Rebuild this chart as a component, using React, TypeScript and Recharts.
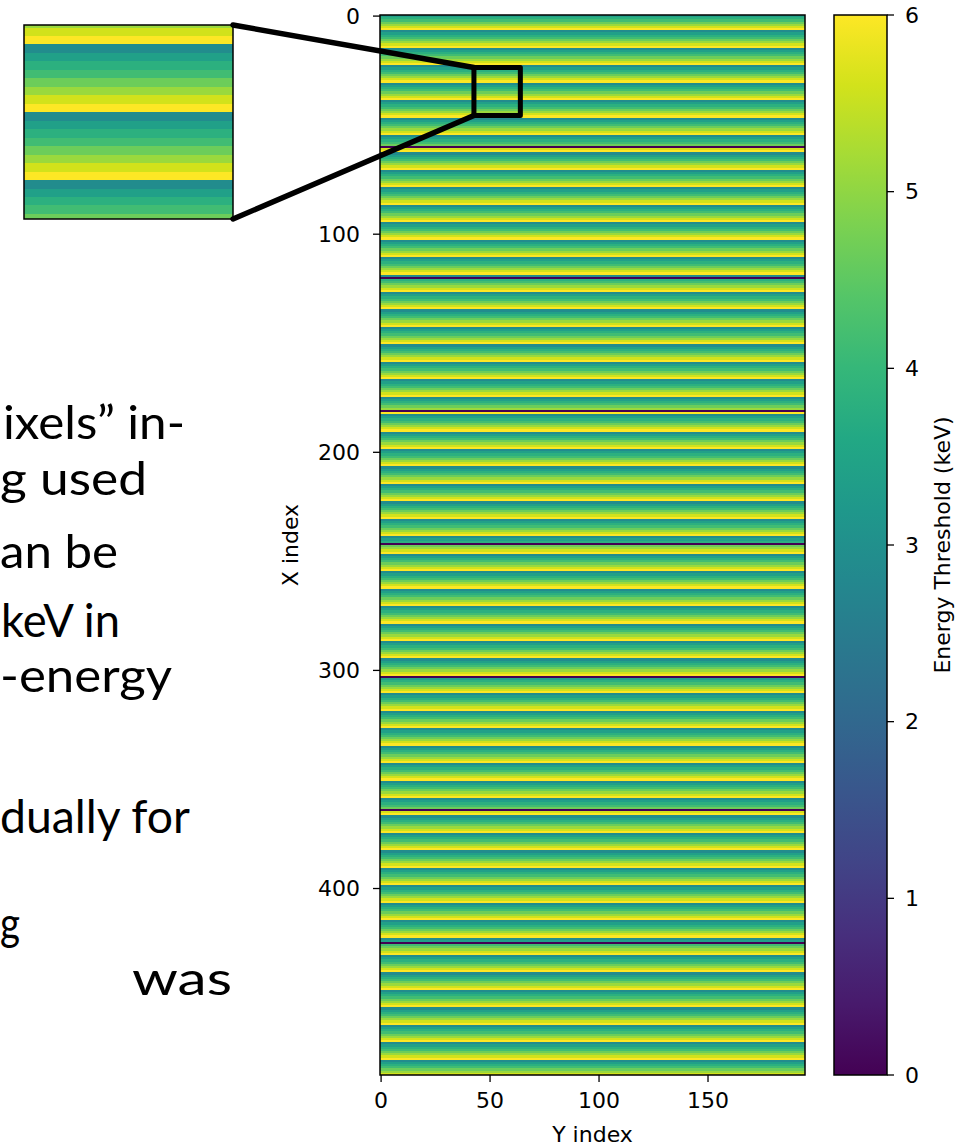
import React from "react";
import { ComposedChart, XAxis, YAxis, ReferenceArea } from "recharts";

const ROW_COUNT = 486;
const COL_COUNT = 195;

// keV threshold of each row inside the repeating 8-row pattern (teal -> yellow)
const stripeCycle = [2.9, 3.4, 3.8, 4.15, 4.65, 5.1, 5.6, 6.0];
const cyclePhase = 1; // row 6 is the first full-yellow row
// rows that are switched off (0 keV)
const deadRows = [60, 120, 181, 242, 303, 364, 425];

const xTicks = [0, 50, 100, 150];
const yTicks = [0, 100, 200, 300, 400];
const barTicks = [0, 1, 2, 3, 4, 5, 6];

// zoomed region marked on the map, and the rows shown in the inset
const zoomBox = { x1: 42.6, x2: 63.9, y1: 23.6, y2: 45.6 };
const insetRowRange = [20.2, 43.1];

// visible fragments of the slide text at the left edge
const slideLines = [
  { text: "ixels\u201D in-", left: 3, right: 185, baseline: 439 },
  { text: "g used", left: 0, right: 147, baseline: 495 },
  { text: "an be", left: 0, right: 118, baseline: 568 },
  { text: "keV in", left: 1, right: 120, baseline: 637 },
  { text: "-energy", left: 0, right: 172, baseline: 692 },
  { text: "dually for", left: 0, right: 190, baseline: 833 },
  { text: "g", left: 0, right: 20, baseline: 940 },
  { text: "was", left: 132, right: 232, baseline: 995 },
];

const viridis = [
  "#440154", "#481a6c", "#472f7d", "#414487", "#39568c", "#31688e", "#2a788e", "#23888e",
  "#1f988b", "#22a884", "#35b779", "#54c568", "#7ad151", "#a5db36", "#d2e21b", "#fde725",
];

const V_MIN = 0;
const V_MAX = 6;

function hexToRgb(h: string) {
  const n = parseInt(h.slice(1), 16);
  return [(n >> 16) & 255, (n >> 8) & 255, n & 255];
}

function viridisColor(v: number) {
  const t = Math.min(1, Math.max(0, (v - V_MIN) / (V_MAX - V_MIN)));
  const pos = t * (viridis.length - 1);
  const i = Math.min(viridis.length - 2, Math.floor(pos));
  const f = pos - i;
  const a = hexToRgb(viridis[i]);
  const b = hexToRgb(viridis[i + 1]);
  const c = a.map((av, k) => Math.round(av + (b[k] - av) * f));
  return `rgb(${c[0]},${c[1]},${c[2]})`;
}

const rows = Array.from({ length: ROW_COUNT }, (_, r) => ({
  row: r,
  keV: deadRows.includes(r) ? 0 : stripeCycle[(r + cyclePhase) % stripeCycle.length],
}));

// plot geometry (page pixels)
const PLOT = { left: 380, right: 805, top: 15, bottom: 1075 };
const INSET = { left: 24, right: 233, top: 25, bottom: 219 };

const toPx = (x: number) => PLOT.left + ((x + 0.5) * (PLOT.right - PLOT.left)) / COL_COUNT;
const toPy = (y: number) => PLOT.top + ((y + 0.5) * (PLOT.bottom - PLOT.top)) / ROW_COUNT;

const axisText = { fill: "#000", fontSize: 22, fontFamily: "DejaVu Sans" };
const tickLine = { stroke: "#000", strokeWidth: 1.3 };

function StripeRows({ list, overflow }: { list: typeof rows; overflow: "visible" | "hidden" }) {
  return (
    <>
      {list.map((r) => (
        <ReferenceArea
          key={r.row}
          x1={-0.5}
          x2={COL_COUNT - 0.5}
          y1={r.row - 0.5}
          y2={r.row + 0.5}
          fill={viridisColor(r.keV)}
          fillOpacity={1}
          stroke="none"
          ifOverflow={overflow}
          shapeRendering="crispEdges"
        />
      ))}
    </>
  );
}

export default function App() {
  const insetRows = rows.filter((r) => r.row + 0.5 > insetRowRange[0] && r.row - 0.5 < insetRowRange[1]);

  return (
    <div
      style={{
        position: "absolute",
        left: 0,
        top: 0,
        width: 958,
        height: 1146,
        overflow: "hidden",
        background: "#fff",
        fontFamily: "DejaVu Sans",
      }}
    >
      {/* main threshold map */}
      <div style={{ position: "absolute", left: 0, top: 0 }}>
        <ComposedChart width={958} height={1146} margin={{ top: PLOT.top, right: 958 - PLOT.right, bottom: 0, left: 200 }}>
          <XAxis
            type="number"
            dataKey="x"
            domain={[-0.5, COL_COUNT - 0.5]}
            ticks={xTicks}
            allowDataOverflow
            interval={0}
            height={1146 - PLOT.bottom}
            tickSize={7}
            tickMargin={10}
            axisLine={false}
            tickLine={tickLine}
            tick={axisText}
            label={{ value: "Y index", position: "insideBottom", offset: 4, ...axisText }}
          />
          <YAxis
            type="number"
            dataKey="y"
            reversed
            domain={[-0.5, ROW_COUNT - 0.5]}
            ticks={yTicks}
            allowDataOverflow
            interval={0}
            width={180}
            tickSize={7}
            tickMargin={13}
            axisLine={false}
            tickLine={tickLine}
            tick={axisText}
            label={{ value: "X index", angle: -90, position: "center", ...axisText }}
          />
          {StripeRows({ list: rows, overflow: "visible" })}
          <ReferenceArea
            x1={-0.5}
            x2={COL_COUNT - 0.5}
            y1={-0.5}
            y2={ROW_COUNT - 0.5}
            fill="none"
            stroke="#000"
            strokeWidth={1.5}
            ifOverflow="visible"
          />
          <ReferenceArea
            x1={zoomBox.x1}
            x2={zoomBox.x2}
            y1={zoomBox.y1}
            y2={zoomBox.y2}
            fill="none"
            stroke="#000"
            strokeWidth={5}
            strokeLinejoin="round"
            ifOverflow="visible"
          />
        </ComposedChart>
      </div>

      {/* colour bar */}
      <div style={{ position: "absolute", left: 0, top: 0 }}>
        <ComposedChart width={1000} height={1146} margin={{ top: PLOT.top, right: 3, bottom: 1146 - PLOT.bottom, left: 834 }}>
          <defs>
            <linearGradient id="viridisBar" x1="0" y1="1" x2="0" y2="0">
              {viridis.map((c, i) => (
                <stop key={c} offset={i / (viridis.length - 1)} stopColor={c} />
              ))}
            </linearGradient>
          </defs>
          <XAxis type="number" dataKey="x" domain={[0, 1]} allowDataOverflow height={0} tick={false} axisLine={false} tickLine={false} />
          <YAxis
            type="number"
            dataKey="y"
            orientation="right"
            domain={[V_MIN, V_MAX]}
            ticks={barTicks}
            allowDataOverflow
            interval={0}
            width={110}
            tickSize={7}
            tickMargin={11}
            axisLine={false}
            tickLine={tickLine}
            tick={axisText}
            label={{ value: "Energy Threshold (keV)", angle: -90, position: "center", ...axisText }}
          />
          <ReferenceArea
            x1={0}
            x2={1}
            y1={V_MIN}
            y2={V_MAX}
            fill="url(#viridisBar)"
            fillOpacity={1}
            stroke="#000"
            strokeWidth={1.5}
            ifOverflow="visible"
          />
        </ComposedChart>
      </div>

      {/* magnified inset */}
      <div style={{ position: "absolute", left: INSET.left - 2, top: INSET.top - 2 }}>
        <ComposedChart
          width={INSET.right - INSET.left + 4}
          height={INSET.bottom - INSET.top + 4}
          margin={{ top: 2, right: 2, bottom: 2, left: 2 }}
        >
          <XAxis type="number" dataKey="x" domain={[zoomBox.x1, zoomBox.x2]} allowDataOverflow height={0} tick={false} axisLine={false} tickLine={false} />
          <YAxis type="number" dataKey="y" reversed domain={insetRowRange} allowDataOverflow width={0} tick={false} axisLine={false} tickLine={false} />
          {StripeRows({ list: insetRows, overflow: "hidden" })}
          <ReferenceArea
            x1={zoomBox.x1}
            x2={zoomBox.x2}
            y1={insetRowRange[0]}
            y2={insetRowRange[1]}
            fill="none"
            stroke="#000"
            strokeWidth={1.5}
            ifOverflow="visible"
          />
        </ComposedChart>
      </div>

      {/* connectors + slide text */}
      <svg width={958} height={1146} style={{ position: "absolute", left: 0, top: 0, pointerEvents: "none" }}>
        <line x1={INSET.right} y1={INSET.top} x2={toPx(zoomBox.x1)} y2={toPy(zoomBox.y1)} stroke="#000" strokeWidth={5.5} strokeLinecap="round" />
        <line x1={INSET.right} y1={INSET.bottom} x2={toPx(zoomBox.x1)} y2={toPy(zoomBox.y2)} stroke="#000" strokeWidth={5.5} strokeLinecap="round" />
        {slideLines.map((l) => (
          <text
            key={l.baseline}
            x={l.left}
            y={l.baseline}
            textLength={l.right - l.left}
            lengthAdjust="spacingAndGlyphs"
            fontFamily="Lato"
            fontSize={47}
            fill="#000"
          >
            {l.text}
          </text>
        ))}
      </svg>
    </div>
  );
}
